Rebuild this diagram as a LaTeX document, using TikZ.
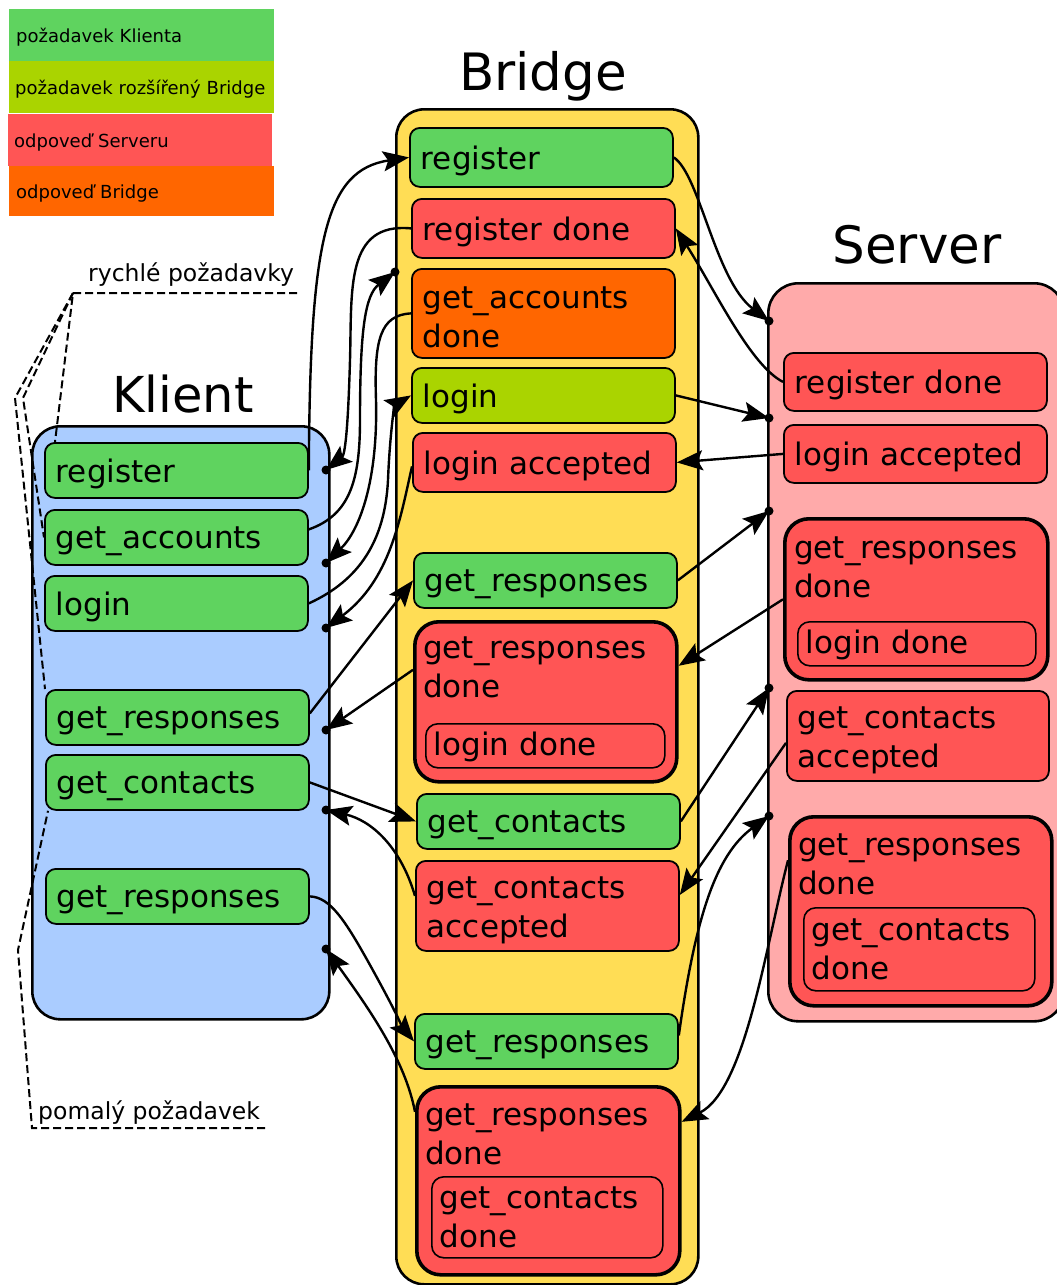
\documentclass[tikz,border=0pt]{standalone}
\usepackage{fontspec}
\setmainfont{DejaVu Sans}
\usetikzlibrary{arrows.meta}
\definecolor{cgrn}{HTML}{5FD35F}
\definecolor{cylg}{HTML}{AAD400}
\definecolor{cred}{HTML}{FF5555}
\definecolor{corg}{HTML}{FF6600}
\definecolor{cbrd}{HTML}{FFDD55}
\definecolor{ckli}{HTML}{AACCFF}
\definecolor{csrv}{HTML}{FFAAAA}
\newcommand\bxfont{\fontsize{31}{39}\selectfont}
\newcommand\ttlfont{\fontsize{51.5}{60}\selectfont}
\newcommand\lgfont{\fontsize{18}{22}\selectfont}
\newcommand\anfont{\fontsize{23.5}{28}\selectfont}
\begin{document}
\begin{tikzpicture}[x=1pt,y=-1pt,
  col/.style={draw, line width=2.6pt, rounded corners=28pt, anchor=north west, inner sep=0pt},
  box/.style={draw, line width=1.8pt, rounded corners=10pt, anchor=north west, inner xsep=11pt, inner ysep=0pt, align=left, font=\bxfont, text width=241pt, minimum height=55pt, execute at begin node={\rule{0pt}{30pt}}},
  tbox/.style={draw, line width=3.6pt, rounded corners=24pt, anchor=north west, inner sep=0pt, fill=cred},
  ibox/.style={draw, line width=1.6pt, rounded corners=12pt, anchor=north west, inner xsep=8pt, inner ysep=0pt, align=left, font=\bxfont, fill=cred},
  lbl/.style={anchor=north west, inner sep=0pt, align=left, font=\bxfont},
  conn/.style={line width=2.4pt, -{Stealth[length=26pt,width=20pt,inset=5pt]}},
  dsh/.style={line width=2pt, dash pattern=on 8pt off 4pt},
  leg/.style={anchor=north west, inner xsep=7pt, inner ysep=0pt, font=\lgfont, align=left, minimum height=52pt, text width=251pt, execute at begin node={\rule{0pt}{18pt}}},
  ttl/.style={font=\ttlfont, anchor=base, inner sep=0pt},
  ann/.style={font=\anfont, anchor=base west, inner sep=0pt}
]
\useasboundingbox (0,0) rectangle (1057,1285);
\fill[white] (0,0) rectangle (1057,1285);

% legend
\node[leg, fill=cgrn] (lg1) at (9,9) {požadavek Klienta};
\node[leg, fill=cylg, inner xsep=6pt, text width=253pt] (lg2) at (9,61) {požadavek rozšířený Bridge};
\node[leg, fill=cred, inner xsep=6pt, text width=252pt] (lg3) at (8,114) {odpoveď Serveru};
\node[leg, fill=corg, minimum height=50pt] (lg4) at (9,166) {odpoveď Bridge};

% columns
\node[col, fill=ckli, minimum width=297pt, minimum height=593pt] (kcol) at (31,425) {};
\node[col, fill=cbrd, minimum width=302pt, minimum height=1175pt] (bcol) at (395,108) {};
\node[col, fill=csrv, minimum width=296pt, minimum height=738pt, rounded corners=30pt] (scol) at (767,282) {};

% titles
\node[ttl, font=\fontsize{49.5}{58}\selectfont] (ktl) at (183,412) {Klient};
\node[ttl] (btl) at (543,90) {Bridge};
\node[ttl] (stl) at (917,263) {Server};

% Klient boxes
\node[box, fill=cgrn] (kreg) at (44,442) {register};
\node[box, fill=cgrn] (kgacc) at (44,509) {get\_accounts};
\node[box, fill=cgrn] (klogin) at (44,575) {login};
\node[box, fill=cgrn] (kgr1) at (45,689) {get\_responses};
\node[box, fill=cgrn] (kgc) at (45,754) {get\_contacts};
\node[box, fill=cgrn] (kgr2) at (45,868) {get\_responses};

% Bridge boxes
\node[box, fill=cgrn, minimum height=59pt] (breg) at (409,127) {register};
\node[box, fill=cred, minimum height=59pt] (bregd) at (411,198) {register done};
\node[box, fill=corg, minimum height=89pt] (bgad) at (411,268) {get\_accounts\\done};
\node[box, fill=cylg] (blogin) at (411,367) {login};
\node[box, fill=cred, minimum height=59pt] (blacc) at (412,432) {login accepted};
\node[box, fill=cgrn] (bgr1) at (413,552) {get\_responses};
\node[tbox, minimum width=262pt, minimum height=160pt] (bgrd) at (413,620) {};
\node[lbl] (bgrdT) at (423,637) {get\_responses\\done};
\node[ibox, text width=223pt, minimum height=44pt] (bgrdI) at (425,723) {\rule{0pt}{26pt}login done};
\node[box, fill=cgrn] (bgc) at (416,793) {get\_contacts};
\node[box, fill=cred, minimum height=90pt] (bgca) at (415,860) {get\_contacts\\accepted};
\node[box, fill=cgrn] (bgr2) at (414,1013) {get\_responses};
\node[tbox, minimum width=263pt, minimum height=188pt] (bgrd2) at (415,1085) {};
\node[lbl] (bgrd2T) at (425,1104) {get\_responses\\done};
\node[ibox, text width=215pt, minimum height=81pt] (bgrd2I) at (431,1176) {get\_contacts\\done};

% Server boxes
\node[box, fill=cred, minimum height=58pt] (sregd) at (783,352) {register done};
\node[box, fill=cred, minimum height=58pt] (slacc) at (783,424) {login accepted};
\node[tbox, minimum width=263pt, minimum height=161pt] (sgrd) at (783,517) {};
\node[lbl] (sgrdT) at (794,537) {get\_responses\\done};
\node[ibox, text width=222pt, minimum height=44pt] (sgrdI) at (797,621) {\rule{0pt}{26pt}login done};
\node[box, fill=cred, minimum height=90pt, text width=240pt] (sgca) at (786,690) {get\_contacts\\accepted};
\node[tbox, minimum width=262pt, minimum height=189pt] (sgrd2) at (788,815) {};
\node[lbl] (sgrd2T) at (798,834) {get\_responses\\done};
\node[ibox, text width=215pt, minimum height=83pt] (sgrd2I) at (803,907) {get\_contacts\\done};

% dot coordinates
\coordinate (kd1) at (326,470);
\coordinate (kd2) at (326,563);
\coordinate (kd3) at (326,628);
\coordinate (kd4) at (326,730);
\coordinate (kd5) at (326,810);
\coordinate (kd6) at (326,949);
\coordinate (bd1) at (395,272);
\coordinate (sd1) at (769,321);
\coordinate (sd2) at (769,418);
\coordinate (sd3) at (769,511);
\coordinate (sd4) at (769,688);
\coordinate (sd5) at (769,816);

% Klient <-> Bridge
\draw[conn] (kreg.east) .. controls (310,240) and (325,170) .. (breg.west);
\draw[conn] (bregd.west) .. controls (345,222) and (352,290) .. (350,360) .. controls (348,430) and (345,455) .. (kd1);
\draw[conn] ([yshift=8pt]kgacc.east) .. controls (350,515) and (360,480) .. (360,420) .. controls (360,330) and (365,295) .. (bd1);
\draw[conn] (bgad.west) .. controls (380,315) and (374,340) .. (376,400) .. controls (378,480) and (360,530) .. (kd2);
\draw[conn] (klogin.east) .. controls (360,580) and (385,540) .. (388,480) .. controls (390,430) and (395,405) .. (blogin.west);
\draw[conn] ([yshift=-4pt]blacc.west) .. controls (400,520) and (390,580) .. (kd3);
\draw[conn] ([yshift=4pt]kgr1.east) -- (bgr1.west);
\draw[conn] ([yshift=32pt]bgrd.west) -- (kd4);
\draw[conn] (kgc.east) -- (bgc.west);
\draw[conn] ([yshift=10pt]bgca.west) .. controls (400,845) and (370,820) .. (kd5);
\draw[conn] (kgr2.east) .. controls (330,897) and (345,920) .. (370,965) .. controls (395,1010) and (403,1028) .. (bgr2.west);
\draw[conn] ([yshift=69pt]bgrd2.west) .. controls (405,1060) and (370,1010) .. (kd6);

% Bridge <-> Server
\draw[conn] (breg.east) .. controls (700,175) and (715,280) .. (sd1);
\draw[conn] (sregd.west) .. controls (750,365) and (715,290) .. (bregd.east);
\draw[conn] (blogin.east) -- (sd2);
\draw[conn] (slacc.west) -- (blacc.east);
\draw[conn] (bgr1.east) -- (sd3);
\draw[conn] (sgrd.west) -- ([yshift=36pt]bgrd.east);
\draw[conn] (bgc.east) -- (sd4);
\draw[conn] ([yshift=-7pt]sgca.west) -- ([yshift=11pt]bgca.east);
\draw[conn] ([yshift=6pt]bgr2.east) .. controls (695,920) and (715,855) .. (sd5);
\draw[conn] ([yshift=51pt]sgrd2.west) .. controls (765,950) and (745,1090) .. ([yshift=59pt]bgrd2.east);

% dots
\foreach \d in {kd1,kd2,kd3,kd4,kd5,kd6,bd1,sd1,sd2,sd3,sd4,sd5}
  \fill (\d) circle (4.5pt);

% annotations
\node[ann] (fastL) at (88,281) {rychlé požadavky};
\node[ann] (slowL) at (38,1119) {pomalý požadavek};
\coordinate (fastR) at (297,293);
\coordinate (fastJ) at (73,293);
\coordinate (slowR) at (265,1128);
\draw[dsh] (fastR) -- (fastJ) -- ([xshift=11pt]kreg.north west);
\draw[dsh] (fastJ) -- (23,398) -- (kgacc.west);
\draw[dsh] (fastJ) -- (15,398) -- (kgr1.north west);
\draw[dsh] (slowR) -- (32,1128) -- (18,950) -- ([xshift=3pt]kgc.south west);
\end{tikzpicture}
\end{document}
